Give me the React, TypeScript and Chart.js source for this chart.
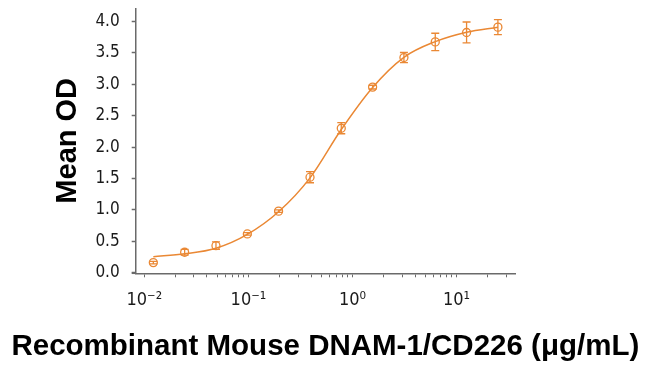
import React, { useEffect, useRef } from "react";
import { Chart, registerables } from "chart.js";

Chart.register(...registerables);

// Concentration of Recombinant Mouse DNAM-1/CD226 (µg/mL)
const concentrations = [0.0122, 0.0244, 0.0488, 0.0977, 0.195, 0.391, 0.781, 1.5625, 3.125, 6.25, 12.5, 25];
// Mean OD of each standard
const meanOD = [0.16, 0.325, 0.43, 0.617, 0.98, 1.52, 2.3, 2.955, 3.426, 3.675, 3.825, 3.91];
// Error (± SD) of each standard
const errorOD = [0.02, 0.045, 0.06, 0.02, 0.02, 0.088, 0.088, 0.03, 0.08, 0.138, 0.167, 0.12];
// Fitted curve read at each concentration
const fitOD = [0.255, 0.3, 0.39, 0.61, 0.97, 1.51, 2.28, 2.95, 3.43, 3.68, 3.83, 3.91];

const yTickValues = [0, 0.5, 1, 1.5, 2, 2.5, 3, 3.5, 4];
const xTickValues = [
  0.01, 0.02, 0.03, 0.04, 0.05, 0.06, 0.07, 0.08, 0.09,
  0.1, 0.2, 0.3, 0.4, 0.5, 0.6, 0.7, 0.8, 0.9,
  1, 2, 3, 4, 5, 6, 7, 8, 9,
  10, 20, 30,
];
const xMajorValues = [0.01, 0.1, 1, 10];
const xMajorLabels = ["10\u207B\u00B2", "10\u207B\u00B9", "10\u2070", "10\u00B9"];
const xTitle = "Recombinant Mouse DNAM-1/CD226 (\u03BCg/mL)";
const yTitle = "Mean OD";

const ORANGE = "rgb(234,136,52)";
const AXIS = "#6a6a6a";
const TEXT = "#1a1a1a";
const TICK_FONT = "'Liberation Sans Narrow', 'Arial Narrow', 'DejaVu Sans Condensed', sans-serif";
const TITLE_FONT = "'Liberation Sans', Arial, sans-serif";

const decorPlugin = {
  id: "decor",
  afterDatasetsDraw(chart: any) {
    const { ctx, scales, chartArea } = chart;
    const x = scales.x;
    const y = scales.y;
    ctx.save();
    // small extension of the x axis line to the left of the y axis
    ctx.strokeStyle = AXIS;
    ctx.lineWidth = 1.5;
    ctx.beginPath();
    ctx.moveTo(chartArea.left - 4, chartArea.bottom);
    ctx.lineTo(chartArea.left, chartArea.bottom);
    ctx.stroke();

    // error bars
    ctx.strokeStyle = ORANGE;
    ctx.lineWidth = 1.3;
    concentrations.forEach((c, i) => {
      const px = x.getPixelForValue(c);
      const top = y.getPixelForValue(meanOD[i] + errorOD[i]);
      const bot = y.getPixelForValue(meanOD[i] - errorOD[i]);
      ctx.beginPath();
      ctx.moveTo(px, top);
      ctx.lineTo(px, bot);
      ctx.moveTo(px - 4, top);
      ctx.lineTo(px + 4, top);
      ctx.moveTo(px - 4, bot);
      ctx.lineTo(px + 4, bot);
      ctx.stroke();
    });

    // x axis title (drawn here so it is not squeezed to the plot width)
    ctx.fillStyle = "#000";
    ctx.font = "bold 29.5px " + TITLE_FONT;
    ctx.textAlign = "center";
    ctx.textBaseline = "alphabetic";
    ctx.fillText(xTitle, (chartArea.left + chartArea.right) / 2, chartArea.bottom + 81.7);
    ctx.restore();
  },
};

export default function App() {
  const canvasRef = useRef<HTMLCanvasElement | null>(null);

  useEffect(() => {
    if (!canvasRef.current) return;
    const chart = new Chart(canvasRef.current, {
      type: "line",
      data: {
        datasets: [
          {
            label: "Fit",
            data: concentrations.map((c, i) => ({ x: c, y: fitOD[i] })),
            borderColor: ORANGE,
            borderWidth: 1.5,
            pointRadius: 0,
            cubicInterpolationMode: "monotone",
            fill: false,
          },
          {
            label: "Mean OD",
            data: concentrations.map((c, i) => ({ x: c, y: meanOD[i] })),
            showLine: false,
            borderColor: ORANGE,
            backgroundColor: "rgba(0,0,0,0)",
            pointStyle: "circle",
            pointRadius: 4,
            pointBorderWidth: 1.3,
            pointBorderColor: ORANGE,
            pointBackgroundColor: "rgba(0,0,0,0)",
          },
        ],
      },
      options: {
        animation: false,
        responsive: false,
        layout: { padding: { left: 0, right: 135, top: 8.3, bottom: 0 } },
        plugins: {
          legend: { display: false },
          tooltip: { enabled: false },
        },
        scales: {
          x: {
            type: "logarithmic",
            min: 0.00826,
            max: 36.5,
            afterFit: (scale: any) => {
              scale.height = 99.7;
              scale.paddingLeft = 0;
              scale.paddingRight = 0;
            },
            afterBuildTicks: (scale: any) => {
              scale.ticks = xTickValues.map((v) => ({ value: v, major: xMajorValues.includes(v) }));
            },
            grid: {
              display: true,
              drawOnChartArea: false,
              drawTicks: true,
              tickLength: 4,
              tickColor: AXIS,
              tickWidth: 1,
            },
            border: { display: true, color: AXIS, width: 1.5 },
            ticks: {
              autoSkip: false,
              maxRotation: 0,
              padding: 12,
              color: TEXT,
              font: { family: TICK_FONT, size: 18 },
              callback: (value: any) => {
                const idx = xMajorValues.findIndex((m) => Math.abs(m - Number(value)) < 1e-9);
                return idx >= 0 ? xMajorLabels[idx] : "";
              },
            },
            title: { display: false },
          },
          y: {
            type: "linear",
            min: -0.01,
            max: 4.21,
            afterFit: (scale: any) => {
              scale.width = 135.7;
              scale.paddingTop = 0;
              scale.paddingBottom = 0;
            },
            afterBuildTicks: (scale: any) => {
              scale.ticks = yTickValues.map((v) => ({ value: v }));
            },
            grid: {
              display: true,
              drawOnChartArea: false,
              drawTicks: true,
              tickLength: 4,
              tickColor: AXIS,
              tickWidth: 1.5,
            },
            border: { display: true, color: AXIS, width: 1.5 },
            ticks: {
              padding: 12,
              color: TEXT,
              font: { family: TICK_FONT, size: 17 },
              callback: (value: any) => Number(value).toFixed(1),
            },
            title: {
              display: true,
              text: yTitle,
              color: "#000",
              font: { family: TITLE_FONT, size: 29, weight: "bold" },
              padding: { top: 51, bottom: 0 },
            },
          },
        },
      },
      plugins: [decorPlugin],
    } as any);
    return () => chart.destroy();
  }, []);

  return (
    <div style={{ position: "fixed", left: 0, top: 0, width: 650, height: 373, background: "#fff" }}>
      <canvas ref={canvasRef} width={650} height={373} style={{ display: "block", width: 650, height: 373 }} />
    </div>
  );
}
